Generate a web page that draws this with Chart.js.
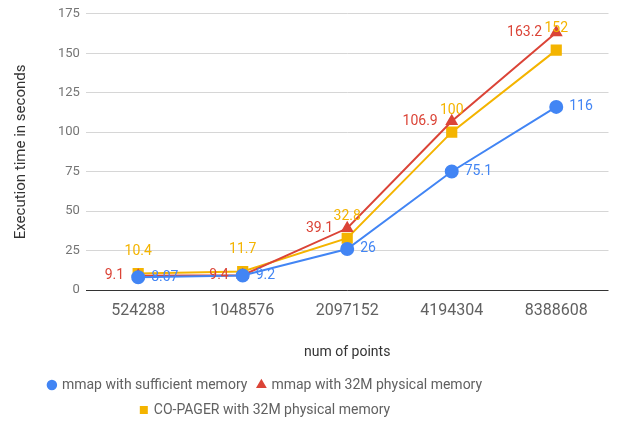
<!DOCTYPE html>
<html>
<head>
<meta charset="utf-8">
<script src="https://cdn.jsdelivr.net/npm/chart.js@4"></script>
<style>
  html, body { margin: 0; padding: 0; background: #fff; }
  #wrap { width: 617px; height: 423px; }
</style>
</head>
<body>
<div id="wrap"><canvas id="perfChart"></canvas></div>
<script>
const points = ["524288", "1048576", "2097152", "4194304", "8388608"]
const mmapSufficient = [8.07, 9.2, 26, 75.1, 116]
const mmap32M = [9.1, 9.4, 39.1, 106.9, 163.2]
const coPager32M = [10.4, 11.7, 32.8, 100, 152]
const yTicks = [0, 25, 50, 75, 100, 125, 150, 175]

const BLUE = "#4285F4"
const RED = "#DB4437"
const YELLOW = "#F4B400"

// value labels next to each point, like the original sheet chart
const pointLabels = {
    id: "pointLabels",
    afterLayout(chart) {
        // legend in the original sits a bit left of centre
        chart.legend.left -= 48
        chart.legend.right -= 48
    },
    afterDatasetsDraw(chart) {
        const ctx = chart.ctx
        ctx.save()
        ctx.font = "14px Roboto"
        chart.data.datasets.forEach((ds, i) => {
            const meta = chart.getDatasetMeta(i)
            meta.data.forEach((pt, j) => {
                const txt = String(ds.data[j])
                ctx.fillStyle = ds.borderColor
                ctx.textBaseline = "middle"
                if (ds.labelPos === "right") {
                    ctx.textAlign = "left"
                    ctx.fillText(txt, pt.x + 13, pt.y)
                } else if (ds.labelPos === "left") {
                    ctx.textAlign = "right"
                    ctx.fillText(txt, pt.x - 14, pt.y)
                } else {
                    ctx.textAlign = "center"
                    ctx.fillText(txt, pt.x, pt.y - 22)
                }
            })
        })
        ctx.restore()
    }
}

new Chart(document.getElementById("perfChart"), {
    type: "line",
    data: {
        labels: points,
        datasets: [{
            label: "mmap with sufficient memory",
            data: mmapSufficient,
            borderColor: BLUE,
            backgroundColor: BLUE,
            pointStyle: "circle",
            pointRadius: 6,
            borderWidth: 2,
            labelPos: "right"
        }, {
            label: "mmap with 32M physical memory",
            data: mmap32M,
            borderColor: RED,
            backgroundColor: RED,
            pointStyle: "triangle",
            pointRadius: 5.5,
            borderWidth: 2,
            labelPos: "left"
        }, {
            label: "CO-PAGER with 32M physical memory",
            data: coPager32M,
            borderColor: YELLOW,
            backgroundColor: YELLOW,
            pointStyle: "rect",
            pointRadius: 6.5,
            borderWidth: 2,
            labelPos: "top"
        }]
    },
    options: {
        responsive: true,
        maintainAspectRatio: false,
        animation: false,
        layout: { padding: { left: 12, right: 2, top: -2, bottom: -4 } },
        plugins: {
            tooltip: { enabled: false },
            legend: {
                position: "bottom",
                labels: {
                    usePointStyle: true,
                    boxWidth: 6,
                    boxHeight: 6,
                    padding: 11,
                    color: "#616161",
                    font: { family: "Roboto", size: 14 }
                }
            }
        },
        scales: {
            x: {
                offset: true,
                grid: { display: false, drawTicks: false },
                border: { display: false },
                ticks: {
                    color: "#616161",
                    padding: 11,
                    font: { family: "Roboto", size: 16 }
                },
                title: {
                    display: true,
                    text: "num of points",
                    color: "#333",
                    padding: { top: 13, bottom: 6 },
                    font: { family: "Roboto", size: 14 }
                }
            },
            y: {
                min: 0,
                max: 175,
                afterBuildTicks: axis => {
                    axis.ticks = yTicks.map(v => ({ value: v }))
                },
                border: { display: false },
                grid: {
                    drawTicks: false,
                    color: c => c.tick && c.tick.value === 0 ? "#333" : "#d6d6d6"
                },
                ticks: {
                    color: "#757575",
                    padding: 6,
                    font: { family: "Roboto", size: 13 }
                },
                title: {
                    display: true,
                    text: "Execution time in seconds",
                    color: "#333",
                    padding: { top: 0, bottom: 22 },
                    font: { family: "Roboto", size: 15 }
                }
            }
        }
    },
    plugins: [pointLabels]
})
</script>
</body>
</html>
